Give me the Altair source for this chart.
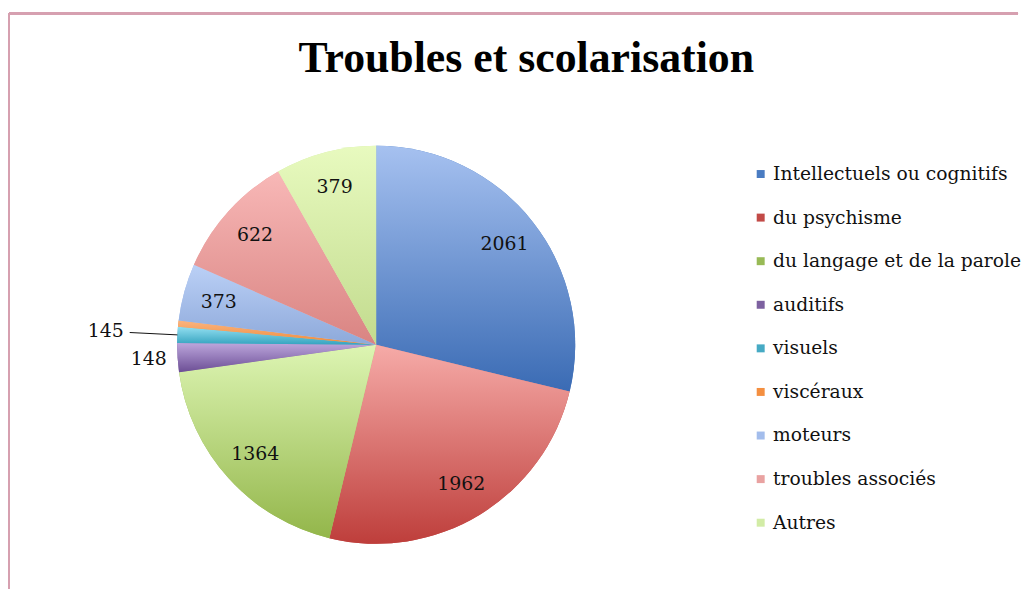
import altair as alt
import pandas as pd

# ---- data ----
categories = ["Intellectuels ou cognitifs", "du psychisme", "du langage et de la parole",
              "auditifs", "visuels", "viscéraux", "moteurs", "troubles associés", "Autres"]
# wedge sizes as drawn in the picture
slice_sizes = [2072, 1800, 1370, 168, 94, 36, 334, 736, 590]
# values printed on the slices
slice_labels = ["2061", "1962", "1364", "148", "145", "", "373", "622", "379"]

legend_colors = ["#4A7CC2", "#C24A47", "#98BA56", "#7D61A0", "#46AAC4", "#F48F40",
                 "#A3BDEC", "#E9A2A1", "#D2ECA6"]
grad_top = ["#A6C1F0", "#F6ABA8", "#DDF5B3", "#BCA6DC", "#93DFF1", "#FBB47F",
            "#BBD0F6", "#F8B8B7", "#E8FABF"]
grad_bottom = ["#3A6BB4", "#BE3E3B", "#93B64A", "#6C4E95", "#35A3BF", "#EE8A3A",
               "#8DA9DA", "#D98482", "#C2DB8E"]

df = pd.DataFrame({
    "idx": list(range(len(categories))),
    "cat": categories,
    "size": slice_sizes,
    "label": slice_labels,
})

W, H = 738, 470
R = 200
total = float(sum(slice_sizes))
theta_scale = alt.Scale(domain=[0, total], range=[0, 6.283185307179586])

base = alt.Chart(df).transform_window(
    cum="sum(size)", sort=[alt.SortField("idx")], frame=[None, 0]
).transform_calculate(
    start="datum.cum - datum.size",
    end="datum.cum",
    mid="datum.cum - datum.size / 2",
    ang="(datum.cum - datum.size / 2) / %f * 2 * PI" % total,
)

# flat base arcs carrying the legend
legend_layer = base.mark_arc(outerRadius=R).encode(
    theta=alt.Theta("start:Q", scale=theta_scale),
    theta2="end:Q",
    color=alt.Color(
        "cat:N",
        scale=alt.Scale(domain=categories, range=legend_colors),
        legend=alt.Legend(
            title=None, orient="none", legendX=746, legendY=54,
            symbolType="square", symbolSize=64, symbolStrokeWidth=0,
            labelFont="DejaVu Serif", labelFontSize=18.8, labelColor="#111111",
            labelOffset=3, rowPadding=23.8, padding=0, labelLimit=400,
        ),
    ),
)

# gradient-shaded slices
grad_layers = []
for c, t, b in zip(categories, grad_top, grad_bottom):
    grad = alt.LinearGradient(
        gradient="linear",
        stops=[alt.GradientStop(color=t, offset=0), alt.GradientStop(color=b, offset=1)],
        x1=0, x2=0, y1=0, y2=1,
    )
    grad_layers.append(
        base.transform_filter(alt.datum.cat == c)
        .mark_arc(outerRadius=R, fill=grad)
        .encode(theta=alt.Theta("start:Q", scale=theta_scale), theta2="end:Q")
    )

# labels on the slices
labels = base.transform_calculate(
    lr="datum.size < 120 ? 272 : (datum.size < 200 ? 229 : 164)"
).mark_text(font="DejaVu Serif", fontSize=19, color="#111111").encode(
    theta=alt.Theta("mid:Q", scale=theta_scale),
    radius=alt.Radius("lr:Q", scale=None),
    text="label:N",
)

# leader line for the small labelled slice outside the pie
leader = base.transform_filter("datum.size < 120 && datum.label != ''").transform_calculate(
    x1="%f + %f * sin(datum.ang)" % (W / 2, R),
    y1="%f - %f * cos(datum.ang)" % (H / 2, R),
    x2="%f + %f * sin(datum.ang)" % (W / 2, 248),
    y2="%f - %f * cos(datum.ang)" % (H / 2, 248),
).mark_rule(color="#111111", strokeWidth=1).encode(
    x=alt.X("x1:Q", scale=None), y=alt.Y("y1:Q", scale=None),
    x2="x2:Q", y2="y2:Q",
)

# decorative frame (top and left border of the original sheet)
frame_top = alt.Chart(df).mark_rule(color="#D6A0B0", strokeWidth=2).encode(
    x=alt.value(0), x2=alt.value(1014), y=alt.value(-98)
)
frame_left = alt.Chart(df).mark_rule(color="#D6A0B0", strokeWidth=2).encode(
    x=alt.value(0), y=alt.value(-98), y2=alt.value(480)
)

chart = alt.layer(legend_layer, *grad_layers, labels, leader, frame_top, frame_left).properties(
    width=W, height=H,
    background="white",
    padding={"left": 0, "top": 3, "right": 0, "bottom": 0},
    title=alt.Title(
        "Troubles et scolarisation", font="Liberation Serif", fontSize=44,
        fontWeight="bold", color="#000000", anchor="start", dx=292, offset=-69,
    ),
).configure_view(strokeWidth=0, stroke="transparent")

chart.save("out.html", embed_options={"renderer": "svg", "actions": False})
